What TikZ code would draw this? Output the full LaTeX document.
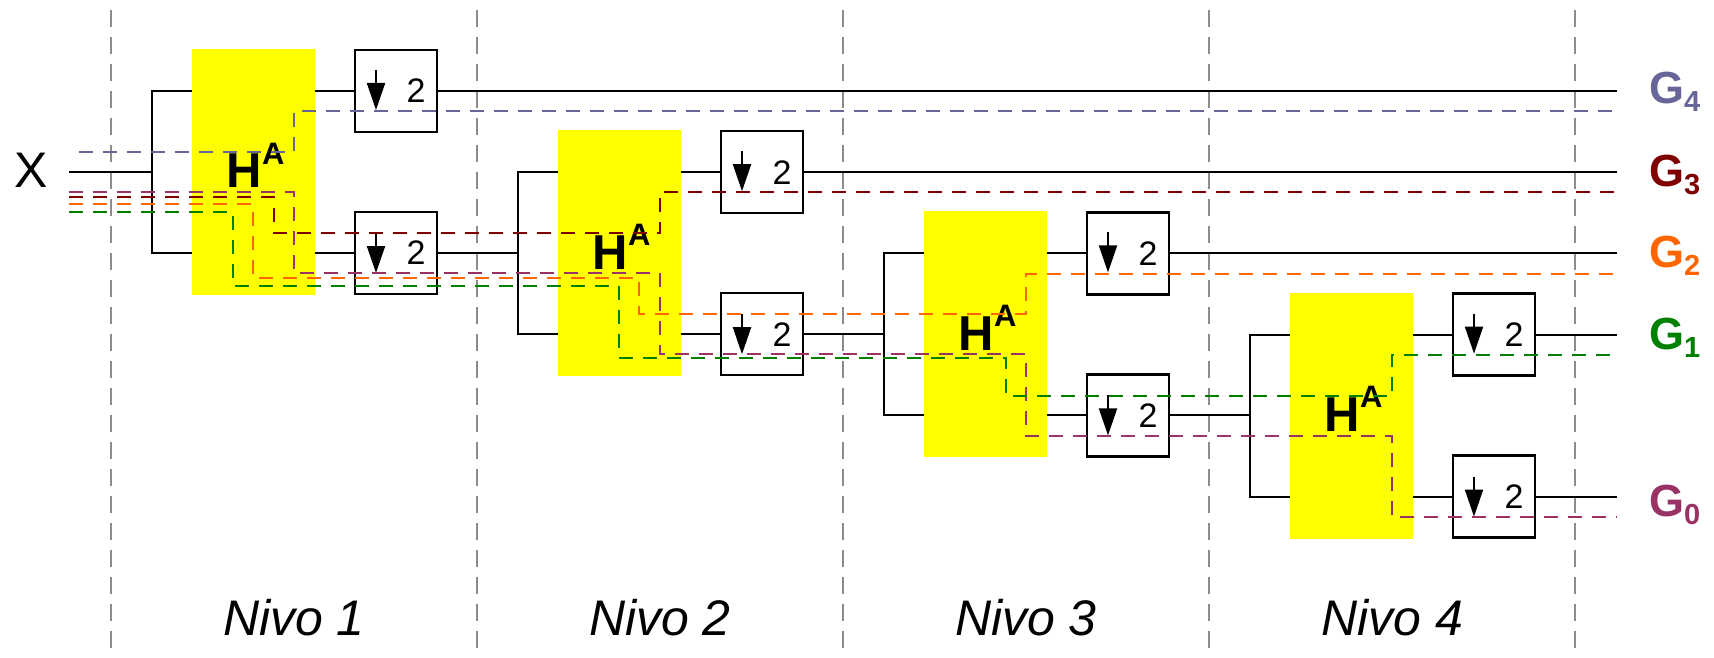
\documentclass[tikz,border=0pt]{standalone}
\usepackage{fontspec}
\setmainfont{Liberation Sans}
\usetikzlibrary{arrows.meta}
\definecolor{cGfour}{HTML}{666699}
\definecolor{cGthree}{HTML}{800000}
\definecolor{cGtwo}{HTML}{FF6600}
\definecolor{cGone}{HTML}{008000}
\definecolor{cGzero}{HTML}{993366}
\definecolor{gridgray}{HTML}{8C8C8C}
\definecolor{hayellow}{HTML}{FFFF00}
\newcommand\mysub[1]{\raisebox{-8pt}{\fontsize{29}{29}\selectfont #1}}
\begin{document}
\begin{tikzpicture}[x=1pt,y=-1pt,
  wire/.style={line width=2pt,black},
  trace/.style={line width=2pt,dash pattern=on 14pt off 10pt},
  gridline/.style={line width=1.8pt,gridgray,dash pattern=on 17pt off 10pt},
  habox/.style={rectangle,fill=hayellow,minimum width=123pt,minimum height=246pt,inner sep=0pt,outer sep=0pt},
  halabel/.style={anchor=base,inner sep=0pt,font=\bfseries},
  dsbox/.style={rectangle,draw=black,fill=white,line width=2.4pt,minimum size=82pt,inner sep=0pt,outer sep=0pt},
  dsarrow/.style={line width=2pt,-{Triangle[length=27pt,width=18pt]}},
  twolabel/.style={inner sep=0pt,font=\fontsize{34}{34}\selectfont},
  glabel/.style={anchor=base west,inner sep=0pt,font=\fontsize{45}{45}\selectfont\bfseries},
  nivolabel/.style={anchor=base,inner sep=0pt,font=\fontsize{50}{50}\selectfont\itshape},
]
\useasboundingbox (0,0) rectangle (1714,658);
% grid
\foreach \j in {0,...,4}{
  \draw[gridline] (111+366*\j,10) -- (111+366*\j,658);
}
% levels
\coordinate (e) at (1617,0);
\foreach \k in {1,...,4}{
  \pgfmathsetmacro\ox{366*(\k-1)}
  \pgfmathsetmacro\oy{81.2*(\k-1)}
  \node[habox] (ha\k) at (253.5+\ox,172+\oy) {};
  \node[halabel] (hl\k) at ([shift={(2,16)}]ha\k.center) {{\fontsize{49}{49}\selectfont H}\raisebox{24pt}{\fontsize{31}{31}\selectfont A}};
  \coordinate (f\k) at (152+\ox,172+\oy);
  \node[dsbox] (dt\k) at (396+\ox,91+\oy) {};
  \node[dsbox] (db\k) at (396+\ox,253+\oy) {};
  \draw[dsarrow] ([shift={(-20,-21)}]dt\k.center) -- ++(0,40);
  \draw[dsarrow] ([shift={(-20,-20)}]db\k.center) -- ++(0,40);
  \node[twolabel] (tt\k) at ([shift={(20,0)}]dt\k.center) {2};
  \node[twolabel] (tb\k) at ([shift={(20,0)}]db\k.center) {2};
  \draw[wire] (ha\k.west |- dt\k.center) -| (f\k) |- (ha\k.west |- db\k.center);
  \draw[wire] (ha\k.east |- dt\k.center) -- (dt\k.west);
  \draw[wire] (ha\k.east |- db\k.center) -- (db\k.west);
  \draw[wire] (dt\k.east) -- (dt\k.east -| e);
}
% inputs
\node[anchor=base,inner sep=0pt,font=\fontsize{50}{50}\selectfont] (x) at (31,188) {X};
\coordinate (xin) at (69,172);
\draw[wire] (xin) -- (f1);
\draw[wire] (db1.east) -- (db1.east -| f2);
\draw[wire] (db2.east) -- (db2.east -| f3);
\draw[wire] (db3.east) -- (db3.east -| f4);
\draw[wire] (db4.east) -- (db4.east -| e);
% traces
\draw[trace,cGfour] (79,152) -| (294,111) -- (1617,111);
\draw[trace,cGzero] (69,192) -| (294,273) -| (660,354) -| (1026,436) -| (1392,517) -- (1617,517);
\draw[trace,cGthree] (69,197) -| (274,233) -| (660,192) -- (1617,192);
\draw[trace,cGtwo] (69,204) -| (253,278) -| (639,314) -| (1026,274) -- (1617,274);
\draw[trace,cGone] (69,212) -| (233,286) -| (619,358) -| (1006,396) -| (1392,355) -- (1617,355);
% output labels
\node[glabel,text=cGfour] (g4) at (1649,104) {G\mysub{4}};
\node[glabel,text=cGthree] (g3) at (1649,186) {G\mysub{3}};
\node[glabel,text=cGtwo] (g2) at (1649,267) {G\mysub{2}};
\node[glabel,text=cGone] (g1) at (1649,349) {G\mysub{1}};
\node[glabel,text=cGzero] (g0) at (1649,516) {G\mysub{0}};
% level labels
\foreach \k in {1,...,4}{
  \node[nivolabel] (n\k) at (294+366*\k-366,635) {Nivo \k};
}
\end{tikzpicture}
\end{document}
